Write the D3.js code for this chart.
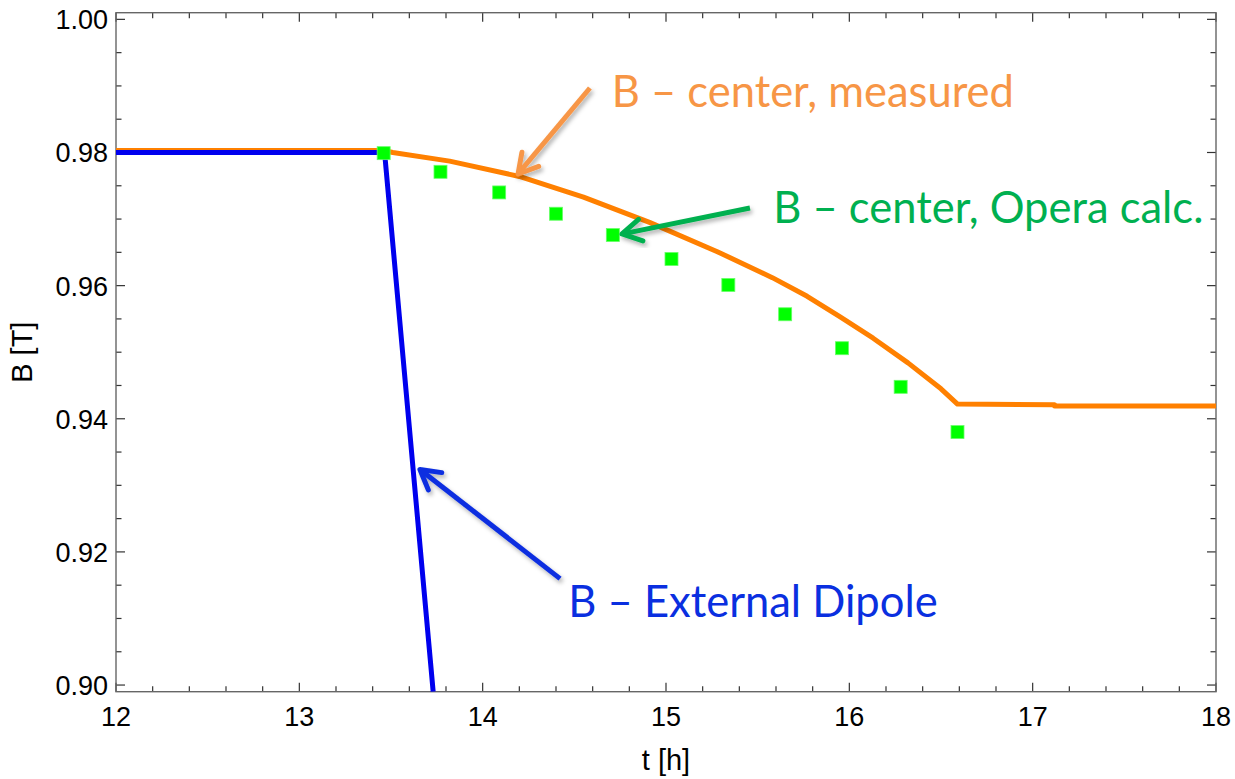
<!DOCTYPE html>
<html>
<head>
<meta charset="utf-8">
<script src="https://cdn.jsdelivr.net/npm/d3@7"></script>
<style>
  body { margin: 0; background: #fff; }
  svg { display: block; }
  .tick-label { font-family: "Liberation Sans", Arial, sans-serif; font-size: 27px; fill: #000; }
  .axis-title { font-family: "Liberation Sans", Arial, sans-serif; font-size: 29px; fill: #000; }
  .note { font-family: Lato, "Open Sans", sans-serif; font-size: 43.5px; }
</style>
</head>
<body>
<div id="chart"></div>
<script>
(function() {
  "use strict";

  // B - center, measured (orange curve)
  var measuredTime = [12, 13.46, 13.51, 13.82, 14.20, 14.55, 14.91, 15.28, 15.58,
                      15.77, 15.95, 16.13, 16.32, 16.50, 16.59, 17.12, 17.12, 18];
  var measuredField = [0.9803, 0.9803, 0.9800, 0.9787, 0.9764, 0.9733, 0.9695, 0.9651, 0.9612,
                       0.9584, 0.9553, 0.9521, 0.9484, 0.9445, 0.9422, 0.9421, 0.9419, 0.9419];

  // B - center, Opera calc. (green squares)
  var operaTime = [13.46, 13.77, 14.09, 14.40, 14.71, 15.03, 15.34, 15.65, 15.96, 16.28, 16.59];
  var operaField = [0.9799, 0.9771, 0.9740, 0.9708, 0.9676, 0.9640, 0.9601, 0.9557, 0.9506, 0.9448, 0.9380];

  // B - External Dipole (blue line)
  var dipoleTime = [12, 13.465, 13.73];
  var dipoleField = [0.980, 0.980, 0.899];

  var xTickValues = [12, 13, 14, 15, 16, 17, 18];
  var yTickValues = [0.90, 0.92, 0.94, 0.96, 0.98, 1.00];
  var yTickLabels = ['0.90', '0.92', '0.94', '0.96', '0.98', '1.00'];

  var notes = [
    { text: 'B \u2013 center, measured', t: 14.704, b: 0.98688, color: '#f79646',
      fromT: 14.585, fromB: 0.98969, toT: 14.193, toB: 0.97677 },
    { text: 'B \u2013 center, Opera calc.', t: 15.585, b: 0.96936, color: '#00b050',
      fromT: 15.458, fromB: 0.97166, toT: 14.760, toB: 0.96776 },
    { text: 'B \u2013 External Dipole', t: 14.467, b: 0.91027, color: '#0a2fe0',
      fromT: 14.422, fromB: 0.91599, toT: 13.658, toB: 0.93238 }
  ];

  var WIDTH = 1235, HEIGHT = 779;
  var margin = { top: 12.7, right: 19, bottom: 87.3, left: 116 };

  var svg = d3.select('#chart')
      .append('svg')
      .attr('width', WIDTH)
      .attr('height', HEIGHT);

  var x = d3.scaleLinear()
      .domain([12, 18])
      .range([margin.left, WIDTH - margin.right]);

  // Mathematica pads the frame a little beyond the 0.90 - 1.00 range
  var y = d3.scaleLinear()
      .domain([0.899, 1.001])
      .range([HEIGHT - margin.bottom, margin.top]);

  var defs = svg.append('defs');
  defs.append('clipPath').attr('id', 'plot-clip')
    .append('rect')
      .attr('x', x(12))
      .attr('y', y(1.001))
      .attr('width', x(18) - x(12))
      .attr('height', y(0.899) - y(1.001));

  var shadow = defs.append('filter').attr('id', 'shadow')
      .attr('x', '-20%').attr('y', '-20%')
      .attr('width', '140%').attr('height', '140%');
  shadow.append('feDropShadow')
      .attr('dx', 2).attr('dy', 3)
      .attr('stdDeviation', 2)
      .attr('flood-color', '#000')
      .attr('flood-opacity', 0.3);

  drawFrame();
  drawSeries();
  notes.forEach(drawNote);

  /**
   * Draws the frame with inward ticks on all four sides, plus tick labels
   * and axis titles.
   */
  function drawFrame() {
    var frame = svg.append('g');
    var x0 = x(12), x1 = x(18), y0 = y(0.899), y1 = y(1.001);
    var MAJOR = 9, MINOR = 5.5;

    var xMinor = d3.range(12, 18.001, 0.2);
    var yMinor = d3.range(0.90, 1.0001, 0.005);

    xMinor.forEach(function(v) {
      var major = Math.abs(v - Math.round(v)) < 1e-6;
      var len = major ? MAJOR : MINOR;
      tick(frame, x(v), y0, x(v), y0 - len);
      tick(frame, x(v), y1, x(v), y1 + len);
    });
    yMinor.forEach(function(v) {
      var major = Math.abs(v * 50 - Math.round(v * 50)) < 1e-6;
      var len = major ? MAJOR : MINOR;
      tick(frame, x0, y(v), x0 + len, y(v));
      tick(frame, x1, y(v), x1 - len, y(v));
    });

    frame.append('rect')
      .attr('x', x0)
      .attr('y', y1)
      .attr('width', x1 - x0)
      .attr('height', y0 - y1)
      .attr('fill', 'none')
      .attr('stroke', '#666')
      .attr('stroke-width', 1.4);

    frame.selectAll('.x-label')
      .data(xTickValues)
      .enter().append('text')
      .attr('class', 'tick-label')
      .attr('x', function(d) { return x(d); })
      .attr('y', y0 + 34)
      .attr('text-anchor', 'middle')
      .text(function(d) { return d; });

    frame.selectAll('.y-label')
      .data(yTickValues)
      .enter().append('text')
      .attr('class', 'tick-label')
      .attr('x', x0 - 8)
      .attr('y', function(d) { return y(d) + 10; })
      .attr('text-anchor', 'end')
      .text(function(d, i) { return yTickLabels[i]; });

    frame.append('text')
      .attr('class', 'axis-title')
      .attr('x', (x0 + x1) / 2)
      .attr('y', HEIGHT - 9)
      .attr('text-anchor', 'middle')
      .text('t [h]');

    frame.append('text')
      .attr('class', 'axis-title')
      .attr('transform', 'translate(32,' + ((y0 + y1) / 2) + ') rotate(-90)')
      .attr('text-anchor', 'middle')
      .text('B [T]');
  }

  function tick(g, xa, ya, xb, yb) {
    g.append('line')
      .attr('x1', xa).attr('y1', ya)
      .attr('x2', xb).attr('y2', yb)
      .attr('stroke', '#333')
      .attr('stroke-width', 1.2);
  }

  /**
   * Draws the measured curve, the dipole line and the Opera squares.
   */
  function drawSeries() {
    var plot = svg.append('g').attr('clip-path', 'url(#plot-clip)');

    var line = d3.line()
        .x(function(d) { return x(d[0]); })
        .y(function(d) { return y(d[1]); });

    plot.append('path')
      .datum(d3.zip(measuredTime, measuredField))
      .attr('d', line)
      .attr('fill', 'none')
      .attr('stroke', '#ff8000')
      .attr('stroke-width', 5)
      .attr('stroke-linejoin', 'round');

    plot.append('path')
      .datum(d3.zip(dipoleTime, dipoleField))
      .attr('d', line)
      .attr('fill', 'none')
      .attr('stroke', '#0000ee')
      .attr('stroke-width', 5)
      .attr('stroke-linejoin', 'round');

    var SIZE = 13;
    plot.selectAll('.opera')
      .data(d3.zip(operaTime, operaField))
      .enter().append('rect')
      .attr('x', function(d) { return x(d[0]) - SIZE / 2; })
      .attr('y', function(d) { return y(d[1]) - SIZE / 2; })
      .attr('width', SIZE)
      .attr('height', SIZE)
      .attr('fill', '#00ff00')
      .attr('stroke', '#66ff66')
      .attr('stroke-width', 0.8);
  }

  /**
   * Draws one annotation: a shadowed arrow and its coloured label.
   */
  function drawNote(note) {
    var g = svg.append('g');
    var xa = x(note.fromT), ya = y(note.fromB);
    var xb = x(note.toT), yb = y(note.toB);
    var ang = Math.atan2(ya - yb, xa - xb);
    var LEN = 22, SPREAD = 0.52;

    var arrow = g.append('g').attr('filter', 'url(#shadow)');
    arrow.append('line')
      .attr('x1', xa).attr('y1', ya)
      .attr('x2', xb + 2 * Math.cos(ang)).attr('y2', yb + 2 * Math.sin(ang))
      .attr('stroke', note.color)
      .attr('stroke-width', 5);
    arrow.append('path')
      .attr('d', 'M' + (xb + LEN * Math.cos(ang + SPREAD)) + ',' + (yb + LEN * Math.sin(ang + SPREAD)) +
                 'L' + xb + ',' + yb +
                 'L' + (xb + LEN * Math.cos(ang - SPREAD)) + ',' + (yb + LEN * Math.sin(ang - SPREAD)))
      .attr('fill', 'none')
      .attr('stroke', note.color)
      .attr('stroke-width', 5)
      .attr('stroke-linecap', 'round')
      .attr('stroke-linejoin', 'round');

    g.append('text')
      .attr('class', 'note')
      .attr('x', x(note.t))
      .attr('y', y(note.b))
      .attr('fill', note.color)
      .text(note.text);
  }
})();
</script>
</body>
</html>
